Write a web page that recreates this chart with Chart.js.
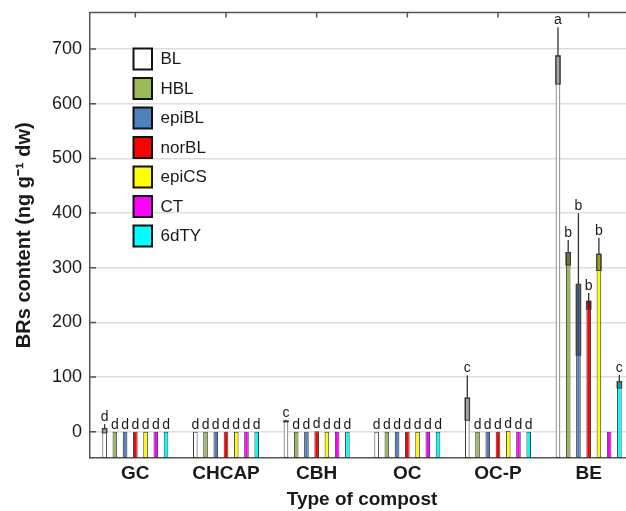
<!DOCTYPE html>
<html>
<head>
<meta charset="utf-8">
<script src="https://cdn.jsdelivr.net/npm/chart.js@4"></script>
<style>
  html, body { margin: 0; padding: 0; background: #fff; overflow: hidden; }
  #wrap { width: 640px; height: 511px; }
</style>
</head>
<body>
<div id="wrap"><canvas id="graf" width="640" height="511"></canvas></div>
<script>
// categories and series
const categorias = ['GC', 'CHCAP', 'CBH', 'OC', 'OC-P', 'BE']
const series = ['BL', 'HBL', 'epiBL', 'norBL', 'epiCS', 'CT', '6dTY']
const cores = ['#ffffff', '#9bbb59', '#4f81bd', '#ff0000', '#ffff00', '#ff00ff', '#00ffff']

// values (ng g-1 dw)
const BL    = [6, 0, 20, 0, 62, 688]
const HBL   = [0, 0, 0, 0, 0, 328]
const epiBL = [0, 0, 0, 0, 0, 270]
const norBL = [0, 0, 1, 0, 0, 239]
const epiCS = [0, 0, 0, 0, 2, 325]
const CT    = [0, 0, 0, 0, 0, 0]
const dTY6  = [0, 0, 0, 0, 0, 92]

// error (SD)
const BL_err    = [8, 0, 2, 0, 41, 52]
const HBL_err   = [0, 0, 0, 0, 0, 23]
const epiBL_err = [0, 0, 0, 0, 0, 130]
const norBL_err = [0, 0, 0, 0, 0, 15]
const epiCS_err = [0, 0, 0, 0, 0, 30]
const CT_err    = [0, 0, 0, 0, 0, 0]
const dTY6_err  = [0, 0, 0, 0, 0, 12]

// significance letters
const BL_let    = ['d', 'd', 'c', 'd', 'c', 'a']
const HBL_let   = ['d', 'd', 'd', 'd', 'd', 'b']
const epiBL_let = ['d', 'd', 'd', 'd', 'd', 'b']
const norBL_let = ['d', 'd', 'd', 'd', 'd', 'b']
const epiCS_let = ['d', 'd', 'd', 'd', 'd', 'b']
const CT_let    = ['d', 'd', 'd', 'd', 'd', '']
const dTY6_let  = ['d', 'd', 'd', 'd', 'd', 'c']

const yTicks = [0, 100, 200, 300, 400, 500, 600, 700]
const Y_MIN = -48
const Y_MAX = 767

const valores = [BL, HBL, epiBL, norBL, epiCS, CT, dTY6]
const erros = [BL_err, HBL_err, epiBL_err, norBL_err, epiCS_err, CT_err, dTY6_err]
const letras = [BL_let, HBL_let, epiBL_let, norBL_let, epiCS_let, CT_let, dTY6_let]

Chart.defaults.font.family = '"Liberation Sans", Arial, sans-serif'
Chart.defaults.color = '#1a1a1a'

let datasets = []
for (let i = 0; i < series.length; i++) {
    datasets.push({
        label: series[i],
        data: valores[i],
        base: Y_MIN,
        backgroundColor: cores[i],
        borderColor: '#3c3c3c',
        borderWidth: 1,
        borderSkipped: false,
        categoryPercentage: 0.79,
        barPercentage: 0.45
    })
}

// error bars + letters
const barrasErro = {
    id: 'barrasErro',
    afterDatasetsDraw(chart) {
        const ctx = chart.ctx
        const y = chart.scales.y
        ctx.save()
        for (let i = 0; i < series.length; i++) {
            const meta = chart.getDatasetMeta(i)
            meta.data.forEach((el, j) => {
                const v = valores[i][j]
                const e = erros[i][j]
                const yTop = y.getPixelForValue(v)
                let yLetra = yTop
                if (e > 0) {
                    const yLow = y.getPixelForValue(v - e)
                    const yHigh = y.getPixelForValue(v + e)
                    ctx.fillStyle = 'rgba(0,0,0,0.35)'
                    ctx.fillRect(el.x - el.width / 2, yTop, el.width, yLow - yTop)
                    ctx.strokeStyle = '#3c3c3c'
                    ctx.lineWidth = 1
                    ctx.strokeRect(el.x - el.width / 2, yTop, el.width, yLow - yTop)
                    ctx.beginPath()
                    ctx.moveTo(el.x, yTop)
                    ctx.lineTo(el.x, yHigh)
                    ctx.strokeStyle = '#333'
                    ctx.lineWidth = 1.3
                    ctx.stroke()
                    yLetra = yHigh
                }
                if (letras[i][j]) {
                    ctx.fillStyle = '#1a1a1a'
                    ctx.font = '14px "Liberation Sans", Arial, sans-serif'
                    ctx.textAlign = 'center'
                    ctx.textBaseline = 'alphabetic'
                    ctx.fillText(letras[i][j], el.x, yLetra - 3)
                }
            })
        }
        ctx.restore()
    }
}

// top frame, inward ticks, legend
const moldura = {
    id: 'moldura',
    afterDraw(chart) {
        const ctx = chart.ctx
        const a = chart.chartArea
        const x = chart.scales.x
        const y = chart.scales.y
        ctx.save()
        ctx.strokeStyle = '#555'
        ctx.lineWidth = 1.5
        ctx.beginPath()
        ctx.moveTo(a.left, a.top)
        ctx.lineTo(a.right, a.top)
        for (let t of yTicks) {
            const py = y.getPixelForValue(t)
            ctx.moveTo(a.left, py)
            ctx.lineTo(a.left + 6, py)
        }
        for (let k = 0; k < categorias.length; k++) {
            const px = x.getPixelForValue(k)
            ctx.moveTo(px, a.top)
            ctx.lineTo(px, a.top + 5)
        }
        ctx.stroke()

        // legend
        ctx.font = '17px "Liberation Sans", Arial, sans-serif'
        ctx.textAlign = 'left'
        ctx.textBaseline = 'middle'
        for (let i = 0; i < series.length; i++) {
            const by = 48.5 + i * 29.5
            ctx.fillStyle = cores[i]
            ctx.fillRect(133.5, by, 18.5, 21)
            ctx.strokeStyle = '#111'
            ctx.lineWidth = 2
            ctx.strokeRect(133.5, by, 18.5, 21)
            ctx.fillStyle = '#1a1a1a'
            ctx.fillText(series[i], 160.5, by + 11)
        }
        ctx.restore()
    }
}

const config = {
    type: 'bar',
    data: { labels: categorias, datasets: datasets },
    options: {
        responsive: false,
        animation: false,
        layout: { padding: { top: 12.5, right: 6, left: 0, bottom: 0 } },
        plugins: {
            legend: { display: false },
            tooltip: { enabled: false }
        },
        scales: {
            x: {
                grid: { display: false, drawTicks: false },
                border: { display: true, color: '#555', width: 1.5 },
                ticks: { font: { size: 19, weight: 'bold' }, padding: 4, color: '#1a1a1a' },
                title: {
                    display: true,
                    text: 'Type of compost',
                    font: { size: 19, weight: 'bold' },
                    color: '#1a1a1a',
                    padding: { top: 0, bottom: 0 }
                },
                afterFit(scale) {
                    scale.height = 53
                    scale.paddingLeft = 0
                    scale.paddingRight = 0
                }
            },
            y: {
                min: Y_MIN,
                max: Y_MAX,
                grid: { color: '#dedede', lineWidth: 1.5, drawTicks: false },
                border: { display: true, color: '#555', width: 1.5 },
                ticks: { font: { size: 18 }, padding: 8, color: '#1a1a1a' },
                afterBuildTicks(scale) {
                    scale.ticks = yTicks.map(v => ({ value: v }))
                },
                title: {
                    display: true,
                    text: 'BRs content (ng g\u207B\u00B9 dw)',
                    font: { size: 20, weight: 'bold' },
                    color: '#1a1a1a',
                    padding: { top: 12, bottom: 0 }
                },
                afterFit(scale) {
                    scale.width = 90
                    scale.paddingTop = 0
                    scale.paddingBottom = 0
                }
            }
        }
    },
    plugins: [barrasErro, moldura]
}

let meuGrafico = new Chart(document.getElementById('graf').getContext('2d'), config)
</script>
</body>
</html>
